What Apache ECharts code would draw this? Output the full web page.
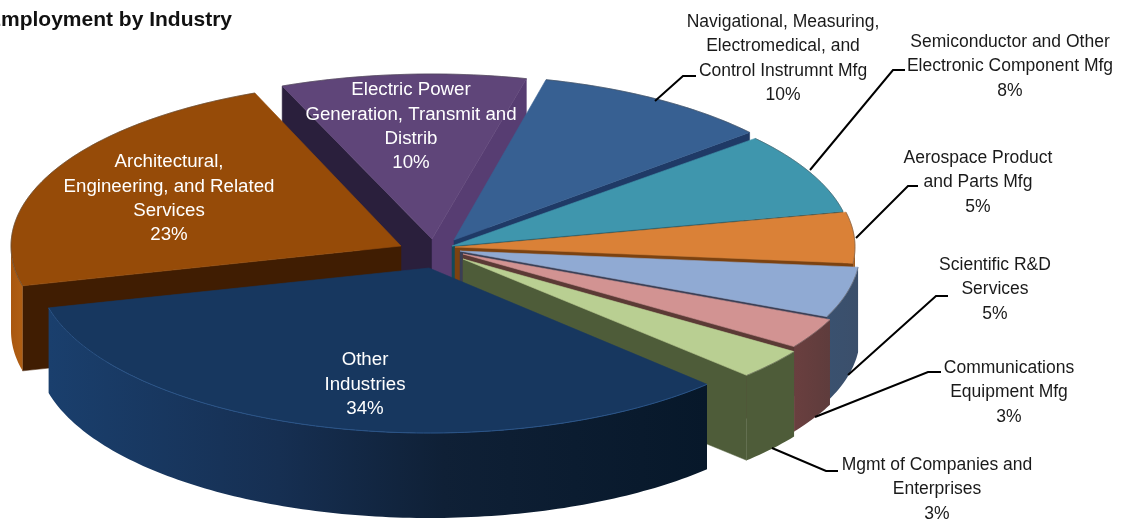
<!DOCTYPE html>
<html><head><meta charset="utf-8">
<style>html,body{margin:0;padding:0;background:#fff}#c{width:1124px;height:522px}</style>
<script src="https://cdn.jsdelivr.net/npm/echarts@6/dist/echarts.min.js"></script>
</head><body><div id="c"></div>
<script>
// Data, in clockwise order from the back of the pie
var categories = ['Electric Power\nGeneration, Transmit and\nDistrib','Navigational, Measuring,\nElectromedical, and\nControl Instrumnt Mfg','Semiconductor and Other\nElectronic Component Mfg','Aerospace Product\nand Parts Mfg','Scientific R&D\nServices','Communications\nEquipment Mfg','Mgmt of Companies and\nEnterprises','Other\nIndustries','Architectural,\nEngineering, and Related\nServices'];
var shares = [10,10,8,5,5,3,3,34,23];

// Styling and layout
var paintOrder = [0,1,2,3,4,5,6,8,7];
var startAngle = -22, radiusX = 400, radiusY = 165, depth = 85;
var apexes = [[432,239],[454,240],[452,246],[455,247],[460,251],[463,254],[463,259],[429,268],[401,246]];
var radiusScale = [1,0.975,1,1,1,1,1,0.98,0.975];
var topColors = ['#5f4579','#376092','#3f96ad','#da8137','#90aad3','#d29392','#b9cf92','#17375f','#964b08'];
var startWall = ['#2a1f3c','#1f3864','#134d5c','#8a4a14','#3b4f6b','#633d3d','#4e5c39','#16365c','#401d02'];
var endWall = ['#573d72','#1f3a66','#134a58','#7c4210','#3a3f55','#5b3a35','#4e5c39','#16365c','#401d02'];
var outerWall = [null,null,null,
  [[0,'#a25c1c'],[1,'#a25c1c']],
  [[0,'#3a516f'],[1,'#3b4f6b']],
  [[0,'#6a3f3f'],[1,'#5e3c3c']],
  [[0,'#4e5c39'],[1,'#4e5c39']],
  [[0,'#1a3f6d'],[0.35,'#162f52'],[0.6,'#0f2036'],[1,'#07182a']],
  [[0,'#a9570f'],[1,'#b05f14']]];
var labelPos = [[411,90,'#fff',18.7],[783,22,'#1a1a1a',17.5],[1010,42,'#1a1a1a',17.5],[978,158,'#1a1a1a',17.5],[995,265,'#1a1a1a',17.5],[1009,368,'#1a1a1a',17.5],[937,465,'#1a1a1a',17.5],[365,360,'#fff',18.7],[169,162,'#fff',18.7]];
var leaders = [null,[[655,101],[683,76],[696,76]],[[810,170],[893,70],[905,70]],[[856,238],[908,186],[918,186]],[[848,375],[936,296],[948,296]],[[815,417],[928,372],[941,372]],[[772,448],[826,471],[838,471]],null,null];

var total = shares.reduce(function(a,b){return a+b;},0);
var spans = [], acc = startAngle;
shares.forEach(function(v){ spans.push([acc, acc + 360*v/total]); acc += 360*v/total; });
function rad(d){return d*Math.PI/180;}
function pt(i,d){ var k=radiusScale[i];
  return [apexes[i][0]+radiusX*k*Math.sin(rad(d)), apexes[i][1]-radiusY*Math.cos(rad(d))]; }

function renderSlice(params, api){
  var i = api.value(1), a0 = spans[i][0], a1 = spans[i][1], A = apexes[i], kids = [];
  var P0 = pt(i,a0), P1 = pt(i,a1), M = pt(i,(a0+a1)/2);
  function wall(P,color){
    var dx=P[0]-A[0], dy=P[1]-A[1];
    var side = dx*(M[1]-A[1])-dy*(M[0]-A[0]);
    if (side*(-dx) <= 0) return;   // interior must lie above the edge
    kids.push({type:'polygon',shape:{points:[A,P,[P[0],P[1]+depth],[A[0],A[1]+depth]]},style:{fill:color,stroke:color,lineWidth:0.5}});
  }
  wall(P0,startWall[i]); wall(P1,endWall[i]);
  // outer rim: only the part of the arc facing the viewer
  var w0 = Math.max(a0,90), w1 = Math.min(a1,270);
  if (outerWall[i] && w1 > w0){
    var up=[], down=[];
    for (var d=w0; d<w1; d+=1){ var p=pt(i,d); up.push(p); down.unshift([p[0],p[1]+depth]); }
    var e=pt(i,w1); up.push(e); down.unshift([e[0],e[1]+depth]);
    kids.push({type:'polygon',shape:{points:up.concat(down)},style:{
      fill:new echarts.graphic.LinearGradient(0,0,1,0,outerWall[i].map(function(s){return {offset:s[0],color:s[1]};}))}});
  }
  var arc=[A];
  for (var t=a0; t<a1; t+=1) arc.push(pt(i,t));
  arc.push(P1);
  kids.push({type:'polygon',shape:{points:arc},style:{fill:topColors[i],stroke:topColors[i],lineWidth:0.6}});
  var rim=[]; for (var r=a0; r<a1; r+=1) rim.push(pt(i,r)); rim.push(P1);
  kids.push({type:'polyline',shape:{points:rim},style:{fill:null,stroke:i===7?'#2a5488':'rgba(70,70,70,0.45)',lineWidth:1}});
  return {type:'group',children:kids};
}
function renderLabel(params, api){
  var i = api.value(1), kids = [], L = labelPos[i];
  if (leaders[i]) kids.push({type:'polyline',shape:{points:leaders[i]},style:{fill:null,stroke:'#000',lineWidth:2}});
  var lines = categories[i].split('\n').concat([api.value(0)+'%']);
  lines.forEach(function(s,n){
    kids.push({type:'text',x:L[0],y:L[1]+n*24.4,style:{text:s,fill:L[2],font:L[3]+'px "Liberation Sans", Arial, sans-serif',align:'center',verticalAlign:'middle'}});
  });
  return {type:'group',children:kids};
}
var rows = paintOrder.map(function(i){return [shares[i],i];});
var chart = echarts.init(document.getElementById('c'));
chart.setOption({
  animation:false,
  backgroundColor:'#fff',
  title:{text:'Employment by Industry',left:-18,top:5,textStyle:{fontFamily:'"Liberation Sans", Arial, sans-serif',fontWeight:'bold',fontSize:21,color:'#111'}},
  series:[
    {type:'custom',coordinateSystem:'none',renderItem:renderSlice,data:rows,silent:true},
    {type:'custom',coordinateSystem:'none',renderItem:renderLabel,data:rows,silent:true,z:5}
  ]
});
</script></body></html>
